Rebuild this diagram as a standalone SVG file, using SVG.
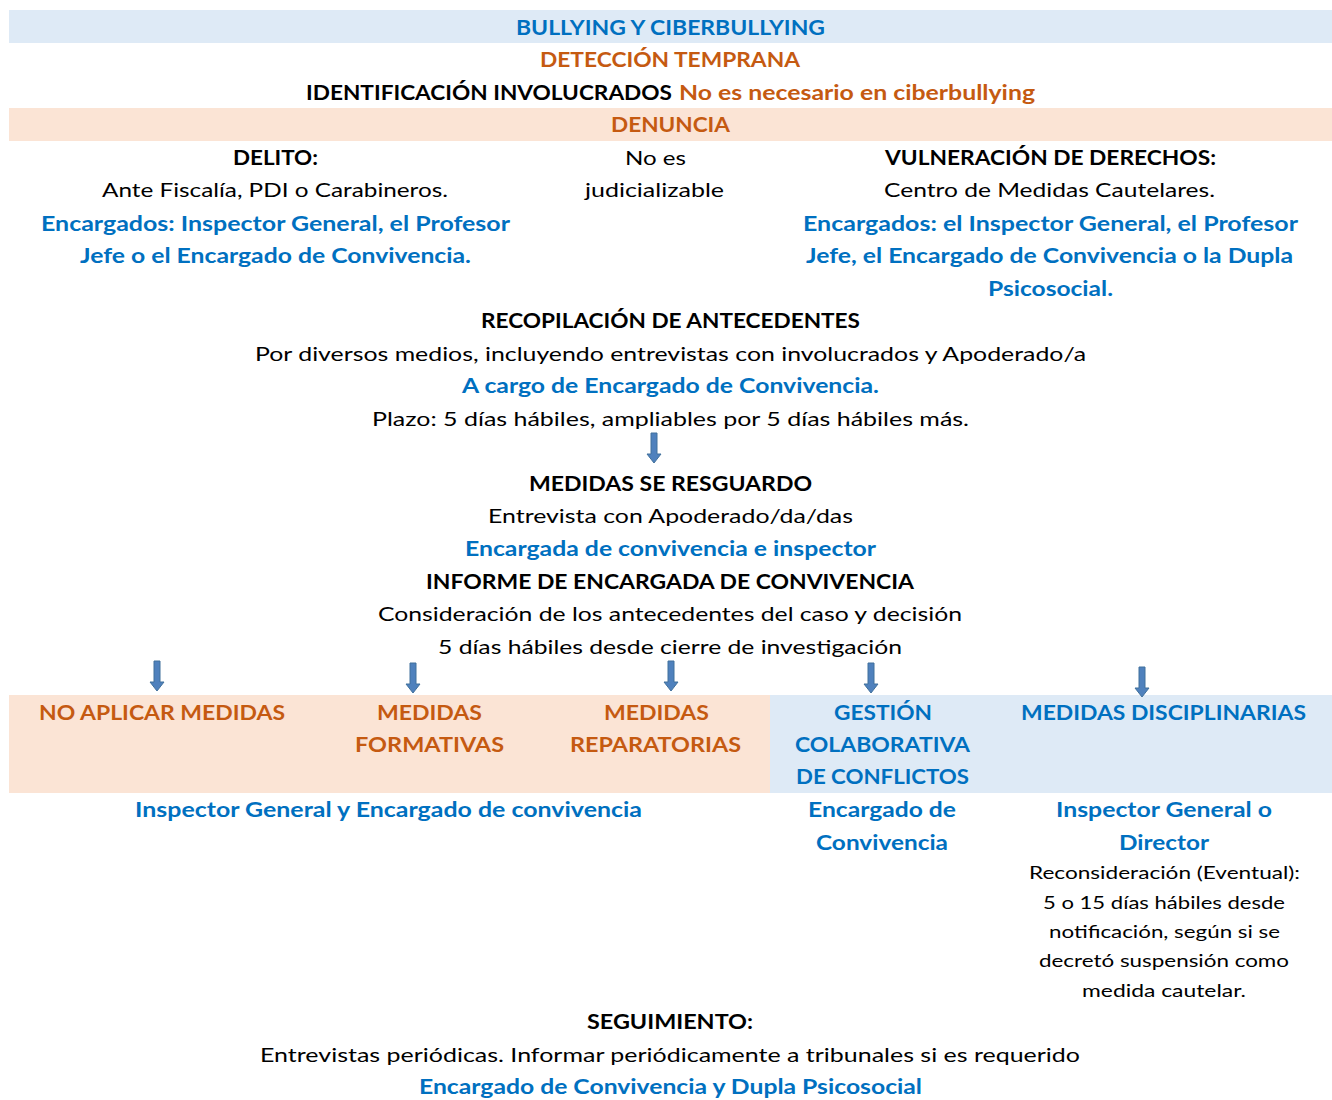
<svg xmlns="http://www.w3.org/2000/svg" width="1332" height="1100" viewBox="0 0 1332 1100">
<style>
text{font-family:Lato,"Open Sans","Liberation Sans",sans-serif;font-size:20px;fill:#000}
.b{font-weight:bold}
.bl{fill:#0070C0;font-weight:bold}
.or{fill:#C55A11;font-weight:bold}
.sm{font-size:17.5px}
.arr{fill:#4F81BD;stroke:#41719C;stroke-width:1}
</style>
<defs>
<path id="ar" d="M-3,0 H3 V21 H7 L0,30 L-7,21 H-3 Z"/>
</defs>
<rect x="0" y="0" width="1332" height="1100" fill="#fff"/>
<g id="bands">
<rect x="9" y="10" width="1323" height="33" fill="#DEEAF6"/>
<rect x="9" y="108" width="1323" height="33" fill="#FBE4D5"/>
<rect x="9" y="695" width="761" height="98" fill="#FBE4D5"/>
<rect x="770" y="695" width="562" height="98" fill="#DEEAF6"/>
</g>
<g id="title"><text class="bl" x="516" y="35" textLength="309" lengthAdjust="spacingAndGlyphs">BULLYING Y CIBERBULLYING</text></g>
<g id="deteccion"><text class="or" x="540" y="67" textLength="260" lengthAdjust="spacingAndGlyphs">DETECCIÓN TEMPRANA</text></g>
<g id="identificacion"><text class="b" x="306" y="100" textLength="366" lengthAdjust="spacingAndGlyphs">IDENTIFICACIÓN INVOLUCRADOS</text><text class="or" x="679" y="100" textLength="356" lengthAdjust="spacingAndGlyphs">No es necesario en ciberbullying</text></g>
<g id="denuncia"><text class="or" x="611" y="132" textLength="119" lengthAdjust="spacingAndGlyphs">DENUNCIA</text></g>
<g id="delito">
<text class="b" x="233" y="165" textLength="85" lengthAdjust="spacingAndGlyphs">DELITO:</text>
<text x="102" y="197" textLength="346" lengthAdjust="spacingAndGlyphs">Ante Fiscalía, PDI o Carabineros.</text>
<text class="bl" x="41" y="231" textLength="469" lengthAdjust="spacingAndGlyphs">Encargados: Inspector General, el Profesor</text>
<text class="bl" x="80" y="263" textLength="391" lengthAdjust="spacingAndGlyphs">Jefe o el Encargado de Convivencia.</text>
</g>
<g id="no-judicializable">
<text x="625" y="165" textLength="61" lengthAdjust="spacingAndGlyphs">No es</text>
<text x="585" y="197" textLength="139" lengthAdjust="spacingAndGlyphs">judicializable</text>
</g>
<g id="vulneracion">
<text class="b" x="885" y="165" textLength="331" lengthAdjust="spacingAndGlyphs">VULNERACIÓN DE DERECHOS:</text>
<text x="884" y="197" textLength="331" lengthAdjust="spacingAndGlyphs">Centro de Medidas Cautelares.</text>
<text class="bl" x="803" y="231" textLength="495" lengthAdjust="spacingAndGlyphs">Encargados: el Inspector General, el Profesor</text>
<text class="bl" x="806" y="263" textLength="487" lengthAdjust="spacingAndGlyphs">Jefe, el Encargado de Convivencia o la Dupla</text>
<text class="bl" x="988" y="296" textLength="125" lengthAdjust="spacingAndGlyphs">Psicosocial.</text>
</g>
<g id="recopilacion">
<text class="b" x="481" y="328" textLength="379" lengthAdjust="spacingAndGlyphs">RECOPILACIÓN DE ANTECEDENTES</text>
<text x="255" y="361" textLength="831" lengthAdjust="spacingAndGlyphs">Por diversos medios, incluyendo entrevistas con involucrados y Apoderado/a</text>
<text class="bl" x="462" y="393" textLength="417" lengthAdjust="spacingAndGlyphs">A cargo de Encargado de Convivencia.</text>
<text x="372" y="426" textLength="597" lengthAdjust="spacingAndGlyphs">Plazo: 5 días hábiles, ampliables por 5 días hábiles más.</text>
</g>
<g id="resguardo">
<text class="b" x="529" y="491" textLength="283" lengthAdjust="spacingAndGlyphs">MEDIDAS SE RESGUARDO</text>
<text x="488" y="523" textLength="365" lengthAdjust="spacingAndGlyphs">Entrevista con Apoderado/da/das</text>
<text class="bl" x="465" y="556" textLength="411" lengthAdjust="spacingAndGlyphs">Encargada de convivencia e inspector</text>
</g>
<g id="informe">
<text class="b" x="426" y="589" textLength="488" lengthAdjust="spacingAndGlyphs">INFORME DE ENCARGADA DE CONVIVENCIA</text>
<text x="378" y="621" textLength="584" lengthAdjust="spacingAndGlyphs">Consideración de los antecedentes del caso y decisión</text>
<text x="438" y="654" textLength="464" lengthAdjust="spacingAndGlyphs">5 días hábiles desde cierre de investigación</text>
</g>
<g id="connectors">
<use href="#ar" class="arr" x="654" y="433"/>
<use href="#ar" class="arr" x="157" y="661"/>
<use href="#ar" class="arr" x="413" y="663"/>
<use href="#ar" class="arr" x="671" y="661"/>
<use href="#ar" class="arr" x="871" y="663"/>
<use href="#ar" class="arr" x="1142" y="667"/>
</g>
<g id="no-aplicar"><text class="or" x="39" y="720" textLength="246" lengthAdjust="spacingAndGlyphs">NO APLICAR MEDIDAS</text></g>
<g id="formativas">
<text class="or" x="377" y="720" textLength="105" lengthAdjust="spacingAndGlyphs">MEDIDAS</text>
<text class="or" x="355" y="752" textLength="149" lengthAdjust="spacingAndGlyphs">FORMATIVAS</text>
</g>
<g id="reparatorias">
<text class="or" x="604" y="720" textLength="105" lengthAdjust="spacingAndGlyphs">MEDIDAS</text>
<text class="or" x="570" y="752" textLength="171" lengthAdjust="spacingAndGlyphs">REPARATORIAS</text>
</g>
<g id="gestion">
<text class="bl" x="834" y="720" textLength="98" lengthAdjust="spacingAndGlyphs">GESTIÓN</text>
<text class="bl" x="795" y="752" textLength="175" lengthAdjust="spacingAndGlyphs">COLABORATIVA</text>
<text class="bl" x="796" y="784" textLength="173" lengthAdjust="spacingAndGlyphs">DE CONFLICTOS</text>
</g>
<g id="disciplinarias"><text class="bl" x="1021" y="720" textLength="285" lengthAdjust="spacingAndGlyphs">MEDIDAS DISCIPLINARIAS</text></g>
<g id="resp-formativas"><text class="bl" x="135" y="817" textLength="507" lengthAdjust="spacingAndGlyphs">Inspector General y Encargado de convivencia</text></g>
<g id="resp-gestion">
<text class="bl" x="808" y="817" textLength="148" lengthAdjust="spacingAndGlyphs">Encargado de</text>
<text class="bl" x="816" y="850" textLength="132" lengthAdjust="spacingAndGlyphs">Convivencia</text>
</g>
<g id="resp-disciplinarias">
<text class="bl" x="1056" y="817" textLength="216" lengthAdjust="spacingAndGlyphs">Inspector General o</text>
<text class="bl" x="1119" y="850" textLength="90" lengthAdjust="spacingAndGlyphs">Director</text>
<text class="sm" x="1029" y="879" textLength="271" lengthAdjust="spacingAndGlyphs">Reconsideración (Eventual):</text>
<text class="sm" x="1043" y="909" textLength="242" lengthAdjust="spacingAndGlyphs">5 o 15 días hábiles desde</text>
<text class="sm" x="1049" y="938" textLength="231" lengthAdjust="spacingAndGlyphs">notificación, según si se</text>
<text class="sm" x="1039" y="967" textLength="250" lengthAdjust="spacingAndGlyphs">decretó suspensión como</text>
<text class="sm" x="1082" y="997" textLength="164" lengthAdjust="spacingAndGlyphs">medida cautelar.</text>
</g>
<g id="seguimiento">
<text class="b" x="587" y="1029" textLength="166" lengthAdjust="spacingAndGlyphs">SEGUIMIENTO:</text>
<text x="260" y="1062" textLength="820" lengthAdjust="spacingAndGlyphs">Entrevistas periódicas. Informar periódicamente a tribunales si es requerido</text>
<text class="bl" x="419" y="1094" textLength="503" lengthAdjust="spacingAndGlyphs">Encargado de Convivencia y Dupla Psicosocial</text>
</g>
</svg>
